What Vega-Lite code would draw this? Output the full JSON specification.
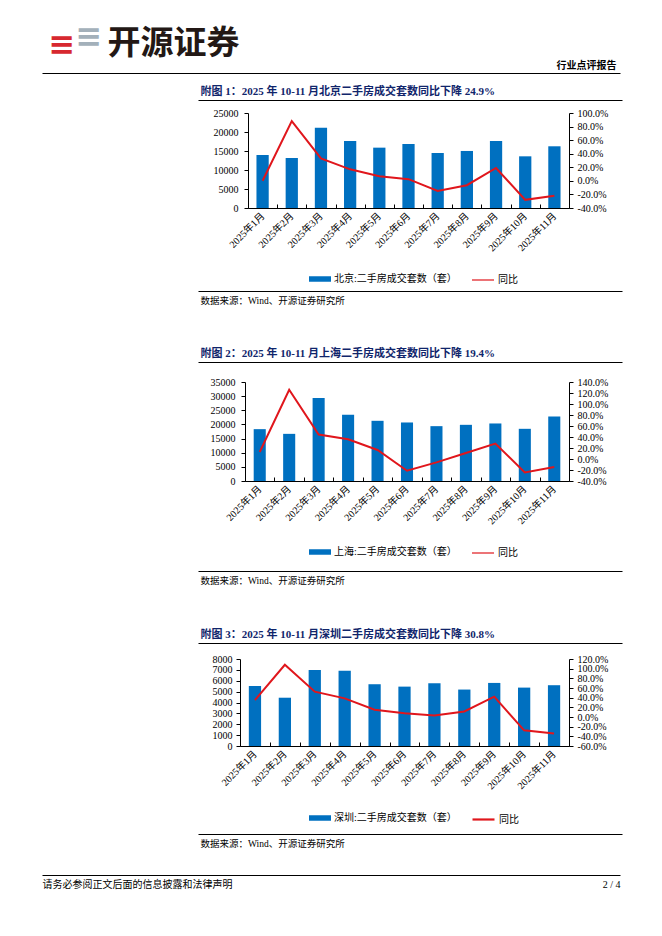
{
  "$schema": "https://vega.github.io/schema/vega-lite/v6.json",
  "autosize": {"type": "none"},
  "padding": {"left": 42, "top": 73, "right": 42, "bottom": 61},
  "background": "#ffffff",
  "datasets": {
    "bj": [
      {"month": "2025年1月", "count": 13950, "yoy": 0.002},
      {"month": "2025年2月", "count": 13160, "yoy": 0.88},
      {"month": "2025年3月", "count": 21150, "yoy": 0.33},
      {"month": "2025年4月", "count": 17650, "yoy": 0.17},
      {"month": "2025年5月", "count": 15880, "yoy": 0.068},
      {"month": "2025年6月", "count": 16850, "yoy": 0.025},
      {"month": "2025年7月", "count": 14480, "yoy": -0.15},
      {"month": "2025年8月", "count": 15010, "yoy": -0.064},
      {"month": "2025年9月", "count": 17640, "yoy": 0.19},
      {"month": "2025年10月", "count": 13600, "yoy": -0.28},
      {"month": "2025年11月", "count": 16240, "yoy": -0.218}
    ],
    "sh": [
      {"month": "2025年1月", "count": 18330, "yoy": 0.128},
      {"month": "2025年2月", "count": 16670, "yoy": 1.26},
      {"month": "2025年3月", "count": 29320, "yoy": 0.444},
      {"month": "2025年4月", "count": 23410, "yoy": 0.359},
      {"month": "2025年5月", "count": 21280, "yoy": 0.164},
      {"month": "2025年6月", "count": 20690, "yoy": -0.213},
      {"month": "2025年7月", "count": 19390, "yoy": -0.061},
      {"month": "2025年8月", "count": 19860, "yoy": 0.11},
      {"month": "2025年9月", "count": 20340, "yoy": 0.28},
      {"month": "2025年10月", "count": 18450, "yoy": -0.243},
      {"month": "2025年11月", "count": 22820, "yoy": -0.146}
    ],
    "sz": [
      {"month": "2025年1月", "count": 5520, "yoy": 0.35},
      {"month": "2025年2月", "count": 4440, "yoy": 1.08},
      {"month": "2025年3月", "count": 7000, "yoy": 0.525},
      {"month": "2025年4月", "count": 6910, "yoy": 0.386},
      {"month": "2025年5月", "count": 5680, "yoy": 0.15},
      {"month": "2025年6月", "count": 5460, "yoy": 0.08},
      {"month": "2025年7月", "count": 5770, "yoy": 0.032},
      {"month": "2025年8月", "count": 5190, "yoy": 0.115},
      {"month": "2025年9月", "count": 5800, "yoy": 0.42},
      {"month": "2025年10月", "count": 5370, "yoy": -0.275},
      {"month": "2025年11月", "count": 5590, "yoy": -0.341}
    ]
  },
  "width": 578, "height": 802,
  "resolve": {"scale": {"x": "independent", "y": "independent", "color": "independent"}},
  "layer": [
    {
      "data": {"name": "bj"},
      "mark": {"type": "point", "opacity": 0},
      "encoding": {
        "x": {"field": "month", "type": "ordinal", "sort": null, "scale": {"type": "point", "range": [0, 578]},
          "axis": {"orient": "top", "offset": 0, "labels": false, "ticks": false, "domainWidth": 1.2,
            "title": "行业点评报告", "titleX": 574, "titleY": -5, "titleAlign": "right", "titleBaseline": "alphabetic", "titleAngle": 0, "titleFontSize": 10, "titleFontWeight": "bold", "titleColor": "#000000"}},
        "y": {"field": "count", "type": "quantitative", "axis": null}
      }
    },
    {
      "data": {"name": "bj"},
      "mark": {"type": "point", "opacity": 0},
      "encoding": {
        "x": {"field": "month", "type": "ordinal", "sort": null, "scale": {"type": "point", "range": [0, 578]},
          "axis": {"orient": "top", "offset": 0, "labels": false, "ticks": false, "domain": false,
            "title": "开源证券", "titleX": 65, "titleY": -20, "titleAlign": "left", "titleBaseline": "alphabetic", "titleAngle": 0, "titleFont": "Noto Sans CJK SC", "titleFontSize": 33, "titleFontWeight": "bold", "titleColor": "#231815"}},
        "y": {"field": "count", "type": "quantitative", "axis": null}
      }
    },
    {
      "data": {"name": "bj"},
      "mark": {"type": "point", "opacity": 0},
      "encoding": {
        "x": {"field": "month", "type": "ordinal", "sort": null, "scale": {"type": "point", "range": [0, 578]},
          "axis": {"orient": "top", "offset": 0, "labels": false, "ticks": false, "domain": false,
            "title": "≡", "titleX": 6, "titleY": -19, "titleAlign": "left", "titleBaseline": "alphabetic", "titleAngle": 0, "titleFont": "DejaVu Sans", "titleFontSize": 32, "titleFontWeight": "bold", "titleColor": "#D7282F"}},
        "y": {"field": "count", "type": "quantitative", "axis": null}
      }
    },
    {
      "data": {"name": "bj"},
      "mark": {"type": "point", "opacity": 0},
      "encoding": {
        "x": {"field": "month", "type": "ordinal", "sort": null, "scale": {"type": "point", "range": [0, 578]},
          "axis": {"orient": "top", "offset": 0, "labels": false, "ticks": false, "domain": false,
            "title": "≡", "titleX": 33, "titleY": -27, "titleAlign": "left", "titleBaseline": "alphabetic", "titleAngle": 0, "titleFont": "DejaVu Sans", "titleFontSize": 32, "titleFontWeight": "bold", "titleColor": "#A3B0BA"}},
        "y": {"field": "count", "type": "quantitative", "axis": null}
      }
    },
    {
      "data": {"name": "bj"},
      "mark": {"type": "point", "opacity": 0},
      "encoding": {
        "x": {"field": "month", "type": "ordinal", "sort": null, "scale": {"type": "point", "range": [0, 578]},
          "axis": {"orient": "bottom", "offset": 0, "labels": false, "ticks": false, "domainWidth": 1.2,
            "title": "请务必参阅正文后面的信息披露和法律声明", "titleX": 0, "titleY": 4, "titleAlign": "left", "titleBaseline": "top", "titleAngle": 0, "titleFontSize": 10, "titleFontWeight": "normal", "titleColor": "#000000"}},
        "y": {"field": "count", "type": "quantitative", "axis": null}
      }
    },
    {
      "data": {"name": "bj"},
      "mark": {"type": "point", "opacity": 0},
      "encoding": {
        "x": {"field": "month", "type": "ordinal", "sort": null, "scale": {"type": "point", "range": [0, 578]},
          "axis": {"orient": "bottom", "offset": 0, "labels": false, "ticks": false, "domain": false,
            "title": "2 / 4", "titleX": 578, "titleY": 4, "titleAlign": "right", "titleBaseline": "top", "titleAngle": 0, "titleFontSize": 10, "titleFontWeight": "normal", "titleColor": "#000000"}},
        "y": {"field": "count", "type": "quantitative", "axis": null}
      }
    },

    {
      "data": {"name": "bj"},
      "mark": {"type": "bar", "width": {"band": 0.42}},
      "encoding": {
        "x": {"field": "month", "type": "ordinal", "sort": null,
          "scale": {"type": "band", "range": [206, 527], "paddingInner": 0, "paddingOuter": 0},
          "axis": {"orient": "bottom", "offset": -667, "title": null, "labelAngle": -45, "labelAlign": "right", "labelBaseline": "middle", "tickBand": "extent", "tickSize": -4, "labelPadding": 10, "labelOverlap": false}},
        "y": {"field": "count", "type": "quantitative", "scale": {"domain": [0, 25000], "range": [135, 40]},
          "axis": {"orient": "left", "offset": -206, "values": [0, 5000, 10000, 15000, 20000, 25000], "format": "d", "title": null, "tickSize": 4, "labelPadding": 6, "labelOverlap": false}},
        "color": {"datum": "北京:二手房成交套数（套）", "scale": {"range": ["#0070C0"]},
          "legend": {"orient": "none", "legendX": 267, "legendY": 195, "title": null, "padding": 0, "labelOffset": 3, "symbolSize": 484, "symbolType": "M-1,-0.25H1V0.25H-1Z", "symbolStrokeWidth": 0}}
      }
    },
    {
      "data": {"name": "bj"},
      "mark": {"type": "line", "strokeWidth": 2},
      "encoding": {
        "x": {"field": "month", "type": "ordinal", "sort": null, "scale": {"type": "point", "range": [206, 527], "padding": 0.5}, "axis": null},
        "y": {"field": "yoy", "type": "quantitative", "scale": {"domain": [-0.4, 1.0], "range": [135, 40]},
          "axis": {"orient": "right", "offset": -51, "values": [-0.4, -0.2, 0, 0.2, 0.4, 0.6, 0.8, 1.0], "labelExpr": "replace(format(datum.value, '.1%'), '\u2212', '-')", "title": null, "tickSize": 4, "labelPadding": 4, "labelOverlap": false}},
        "color": {"datum": "同比", "scale": {"range": ["#E0161C"]},
          "legend": {"orient": "none", "legendX": 429, "legendY": 195, "title": null, "padding": 0, "labelOffset": 3, "symbolSize": 484, "symbolType": "stroke", "symbolStrokeColor": "#C00000", "symbolStrokeWidth": 1.2}}
      }
    },
    {
      "data": {"name": "bj"},
      "mark": {"type": "point", "opacity": 0},
      "encoding": {
        "x": {"field": "month", "type": "ordinal", "sort": null, "scale": {"type": "point", "range": [156, 580]},
          "axis": {"orient": "top", "offset": -27, "labels": false, "ticks": false, "domainWidth": 1.2,
            "title": "附图 1：2025 年 10-11 月北京二手房成交套数同比下降 24.9%", "titleX": 158, "titleY": -6, "titleAlign": "left", "titleBaseline": "alphabetic", "titleAngle": 0, "titleFontSize": 11, "titleFontWeight": "bold", "titleColor": "#10256B"}},
        "y": {"field": "count", "type": "quantitative", "axis": null}
      }
    },
    {
      "data": {"name": "bj"},
      "mark": {"type": "point", "opacity": 0},
      "encoding": {
        "x": {"field": "month", "type": "ordinal", "sort": null, "scale": {"type": "point", "range": [156, 580]},
          "axis": {"orient": "bottom", "offset": -584, "labels": false, "ticks": false, "domainWidth": 1,
            "title": "数据来源：Wind、开源证券研究所", "titleX": 158, "titleY": 4, "titleAlign": "left", "titleBaseline": "top", "titleAngle": 0, "titleFontSize": 9.5, "titleFontWeight": "normal", "titleColor": "#000000"}},
        "y": {"field": "count", "type": "quantitative", "axis": null}
      }
    },

    {
      "data": {"name": "sh"},
      "mark": {"type": "bar", "width": {"band": 0.41}},
      "encoding": {
        "x": {"field": "month", "type": "ordinal", "sort": null,
          "scale": {"type": "band", "range": [203, 527], "paddingInner": 0, "paddingOuter": 0},
          "axis": {"orient": "bottom", "offset": -394, "title": null, "labelAngle": -45, "labelAlign": "right", "labelBaseline": "middle", "tickBand": "extent", "tickSize": -4, "labelPadding": 10, "labelOverlap": false}},
        "y": {"field": "count", "type": "quantitative", "scale": {"domain": [0, 35000], "range": [408, 309]},
          "axis": {"orient": "left", "offset": -203, "values": [0, 5000, 10000, 15000, 20000, 25000, 30000, 35000], "format": "d", "title": null, "tickSize": 4, "labelPadding": 6, "labelOverlap": false}},
        "color": {"datum": "上海:二手房成交套数（套）", "scale": {"range": ["#0070C0"]},
          "legend": {"orient": "none", "legendX": 267, "legendY": 468, "title": null, "padding": 0, "labelOffset": 3, "symbolSize": 484, "symbolType": "M-1,-0.25H1V0.25H-1Z", "symbolStrokeWidth": 0}}
      }
    },
    {
      "data": {"name": "sh"},
      "mark": {"type": "line", "strokeWidth": 2},
      "encoding": {
        "x": {"field": "month", "type": "ordinal", "sort": null, "scale": {"type": "point", "range": [203, 527], "padding": 0.5}, "axis": null},
        "y": {"field": "yoy", "type": "quantitative", "scale": {"domain": [-0.4, 1.4], "range": [408, 309]},
          "axis": {"orient": "right", "offset": -51, "values": [-0.4, -0.2, 0, 0.2, 0.4, 0.6, 0.8, 1.0, 1.2, 1.4], "labelExpr": "replace(format(datum.value, '.1%'), '\u2212', '-')", "title": null, "tickSize": 4, "labelPadding": 4, "labelOverlap": false}},
        "color": {"datum": "同比", "scale": {"range": ["#E0161C"]},
          "legend": {"orient": "none", "legendX": 429, "legendY": 468, "title": null, "padding": 0, "labelOffset": 3, "symbolSize": 484, "symbolType": "stroke", "symbolStrokeColor": "#C00000", "symbolStrokeWidth": 1.2}}
      }
    },
    {
      "data": {"name": "sh"},
      "mark": {"type": "point", "opacity": 0},
      "encoding": {
        "x": {"field": "month", "type": "ordinal", "sort": null, "scale": {"type": "point", "range": [156, 580]},
          "axis": {"orient": "top", "offset": -289, "labels": false, "ticks": false, "domainWidth": 1.2,
            "title": "附图 2：2025 年 10-11 月上海二手房成交套数同比下降 19.4%", "titleX": 158, "titleY": -6, "titleAlign": "left", "titleBaseline": "alphabetic", "titleAngle": 0, "titleFontSize": 11, "titleFontWeight": "bold", "titleColor": "#10256B"}},
        "y": {"field": "count", "type": "quantitative", "axis": null}
      }
    },
    {
      "data": {"name": "sh"},
      "mark": {"type": "point", "opacity": 0},
      "encoding": {
        "x": {"field": "month", "type": "ordinal", "sort": null, "scale": {"type": "point", "range": [156, 580]},
          "axis": {"orient": "bottom", "offset": -304, "labels": false, "ticks": false, "domainWidth": 1,
            "title": "数据来源：Wind、开源证券研究所", "titleX": 158, "titleY": 4, "titleAlign": "left", "titleBaseline": "top", "titleAngle": 0, "titleFontSize": 9.5, "titleFontWeight": "normal", "titleColor": "#000000"}},
        "y": {"field": "count", "type": "quantitative", "axis": null}
      }
    },

    {
      "data": {"name": "sz"},
      "mark": {"type": "bar", "width": {"band": 0.41}},
      "encoding": {
        "x": {"field": "month", "type": "ordinal", "sort": null,
          "scale": {"type": "band", "range": [198, 527], "paddingInner": 0, "paddingOuter": 0},
          "axis": {"orient": "bottom", "offset": -129, "title": null, "labelAngle": -45, "labelAlign": "right", "labelBaseline": "middle", "tickBand": "extent", "tickSize": -4, "labelPadding": 10, "labelOverlap": false}},
        "y": {"field": "count", "type": "quantitative", "scale": {"domain": [0, 8000], "range": [673, 586]},
          "axis": {"orient": "left", "offset": -198, "values": [0, 1000, 2000, 3000, 4000, 5000, 6000, 7000, 8000], "format": "d", "title": null, "tickSize": 4, "labelPadding": 4, "labelOverlap": false}},
        "color": {"datum": "深圳:二手房成交套数（套）", "scale": {"range": ["#0070C0"]},
          "legend": {"orient": "none", "legendX": 267, "legendY": 734, "title": null, "padding": 0, "labelOffset": 3, "symbolSize": 484, "symbolType": "M-1,-0.25H1V0.25H-1Z", "symbolStrokeWidth": 0}}
      }
    },
    {
      "data": {"name": "sz"},
      "mark": {"type": "line", "strokeWidth": 2},
      "encoding": {
        "x": {"field": "month", "type": "ordinal", "sort": null, "scale": {"type": "point", "range": [198, 527], "padding": 0.5}, "axis": null},
        "y": {"field": "yoy", "type": "quantitative", "scale": {"domain": [-0.6, 1.2], "range": [673, 586]},
          "axis": {"orient": "right", "offset": -51, "values": [-0.6, -0.4, -0.2, 0, 0.2, 0.4, 0.6, 0.8, 1.0, 1.2], "labelExpr": "replace(format(datum.value, '.1%'), '\u2212', '-')", "title": null, "tickSize": 4, "labelPadding": 4, "labelOverlap": false}},
        "color": {"datum": "同比", "scale": {"range": ["#E0161C"]},
          "legend": {"orient": "none", "legendX": 429, "legendY": 734, "title": null, "padding": 0, "labelOffset": 3, "symbolSize": 484, "symbolType": "stroke", "symbolStrokeColor": "#E0161C", "symbolStrokeWidth": 2.2}}
      }
    },
    {
      "data": {"name": "sz"},
      "mark": {"type": "point", "opacity": 0},
      "encoding": {
        "x": {"field": "month", "type": "ordinal", "sort": null, "scale": {"type": "point", "range": [156, 580]},
          "axis": {"orient": "top", "offset": -570, "labels": false, "ticks": false, "domainWidth": 1.2,
            "title": "附图 3：2025 年 10-11 月深圳二手房成交套数同比下降 30.8%", "titleX": 158, "titleY": -6, "titleAlign": "left", "titleBaseline": "alphabetic", "titleAngle": 0, "titleFontSize": 11, "titleFontWeight": "bold", "titleColor": "#10256B"}},
        "y": {"field": "count", "type": "quantitative", "axis": null}
      }
    },
    {
      "data": {"name": "sz"},
      "mark": {"type": "point", "opacity": 0},
      "encoding": {
        "x": {"field": "month", "type": "ordinal", "sort": null, "scale": {"type": "point", "range": [156, 580]},
          "axis": {"orient": "bottom", "offset": -41, "labels": false, "ticks": false, "domainWidth": 1,
            "title": "数据来源：Wind、开源证券研究所", "titleX": 158, "titleY": 4, "titleAlign": "left", "titleBaseline": "top", "titleAngle": 0, "titleFontSize": 9.5, "titleFontWeight": "normal", "titleColor": "#000000"}},
        "y": {"field": "count", "type": "quantitative", "axis": null}
      }
    }
  ],
  "config": {
    "font": "'Liberation Serif', 'Noto Sans CJK SC'",
    "view": {"stroke": null},
    "axis": {"labelFont": "'Liberation Serif', 'Noto Sans CJK SC'", "labelFontSize": 10, "labelColor": "#000000", "domainColor": "#000000", "tickColor": "#000000", "grid": false, "titleFont": "'Liberation Serif', 'Noto Sans CJK SC'"},
    "legend": {"labelFont": "'Liberation Serif', 'Noto Sans CJK SC'", "labelFontSize": 10, "labelColor": "#000000"}
  }
}
